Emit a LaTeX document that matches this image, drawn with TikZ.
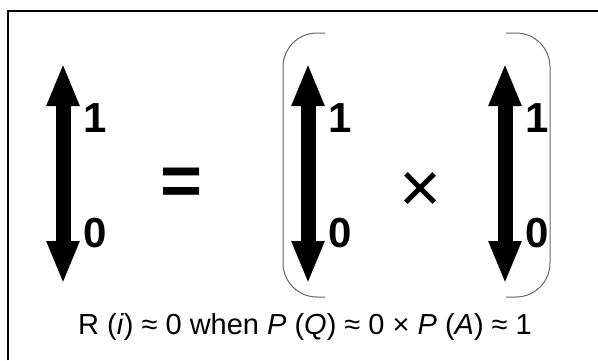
\documentclass[tikz,border=0pt]{standalone}
\usepackage{fontspec}
\setmainfont{Liberation Sans}
\usetikzlibrary{arrows.meta}
\tikzset{
  bigarrow/.style={line width=15pt, {Triangle[width=30pt,length=43pt]}-{Triangle[width=30pt,length=43pt]}},
  digit/.style={font=\fontsize{42}{44}\selectfont\bfseries, inner sep=0pt},
  paren/.style={draw=black!60, line width=1pt, rounded corners=34pt}
}
\begin{document}
\begin{tikzpicture}[x=1pt,y=-1pt]
    \useasboundingbox (0,0) rectangle (598,360);
    \draw[line width=1.2pt] (8,360) -- (8,11) -- (598,11);
    \foreach \n/\x in {r/63,q/308,a/505} {
      \coordinate (\n top) at (\x,63);
      \coordinate (\n bot) at (\x,284);
      \draw[bigarrow] (\n bot) -- (\n top);
      \node[digit] (\n one) at (\x+32,118) {1};
      \node[digit] (\n zero) at (\x+32,233) {0};
    }
    \node[font=\fontsize{72}{72}\selectfont\bfseries, inner sep=0pt] (eq) at (182,187) {=};
    \node[font=\fontsize{72}{72}\selectfont, inner sep=0pt] (times) at (421,192) {×};
    \draw[paren] (325,33) -- (283,33) -- (283,297) -- (325,297);
    \draw[paren] (506,33) -- (550,33) -- (550,297) -- (506,297);
    \node[font=\fontsize{29}{32}\selectfont, inner sep=0pt] (caption) at (305,327)
      {R (\textit{i}) ≈ 0 when \textit{P} (\textit{Q}) ≈ 0 × \textit{P} (\textit{A}) ≈ 1};
\end{tikzpicture}
\end{document}
